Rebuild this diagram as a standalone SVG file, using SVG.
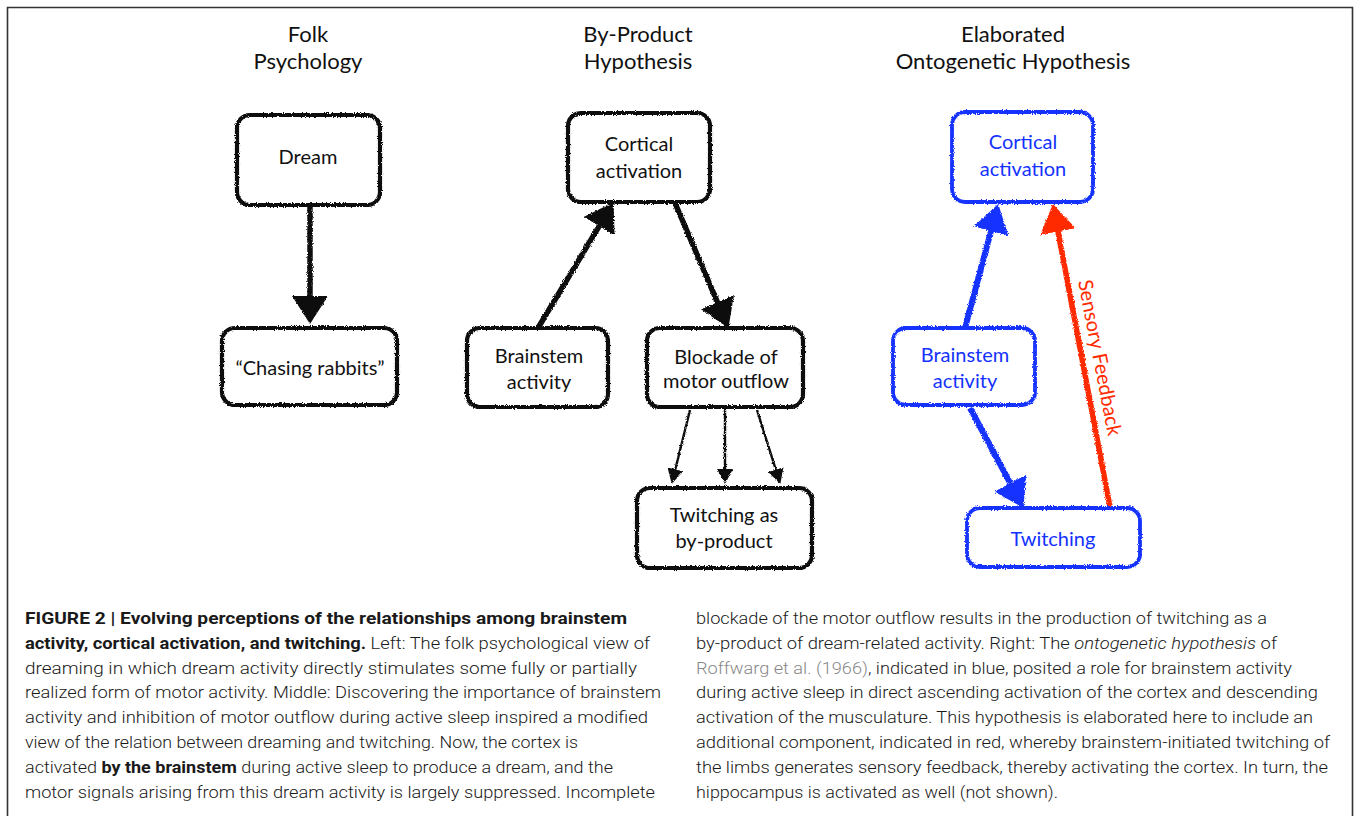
<svg xmlns="http://www.w3.org/2000/svg" width="1354" height="816" viewBox="0 0 1354 816">
<style>
.title{font-family:Lato,"Open Sans",sans-serif;font-size:22px;fill:#111;text-anchor:middle}
.lbl{font-family:Lato,"Open Sans",sans-serif;font-size:20px;fill:#111;text-anchor:middle}
.lblb{font-family:Lato,"Open Sans",sans-serif;font-size:20px;fill:#1432ff;text-anchor:middle}
.box{fill:#fff;stroke:#111;stroke-width:4.2}
.boxb{fill:#fff;stroke:#1432ff;stroke-width:3.8}
.ak{stroke:#111;stroke-width:5.5;fill:none}
.ab{stroke:#1432ff;stroke-width:6;fill:none}
.ar{stroke:#ff2a00;stroke-width:5.5;fill:none}
.thin{stroke:#111;stroke-width:2.4;fill:none}
.cap{font-family:Roboto,"Liberation Sans",sans-serif;font-weight:300;font-size:17px;fill:#1a1a1a}
.b{font-weight:700}
.i{font-style:italic}
.ref{fill:#888}
</style>
<defs>
<filter id="rough" x="-5%" y="-5%" width="110%" height="110%">
<feTurbulence type="fractalNoise" baseFrequency="1.1" numOctaves="2" seed="3" result="n"/>
<feDisplacementMap in="SourceGraphic" in2="n" scale="3.2" xChannelSelector="R" yChannelSelector="G"/>
</filter>
<marker id="hk" markerUnits="userSpaceOnUse" markerWidth="28" markerHeight="36" viewBox="0 0 28 36" refX="5" refY="18" orient="auto"><path d="M0,0 L28,18 L0,36 Z" fill="#111"/></marker>
<marker id="hb" markerUnits="userSpaceOnUse" markerWidth="28" markerHeight="36" viewBox="0 0 28 36" refX="5" refY="18" orient="auto"><path d="M0,0 L28,18 L0,36 Z" fill="#1432ff"/></marker>
<marker id="hr" markerUnits="userSpaceOnUse" markerWidth="28" markerHeight="36" viewBox="0 0 28 36" refX="5" refY="18" orient="auto"><path d="M0,0 L28,18 L0,36 Z" fill="#ff2a00"/></marker>
<marker id="hs" markerUnits="userSpaceOnUse" markerWidth="15" markerHeight="16" viewBox="0 0 15 16" refX="3" refY="8" orient="auto"><path d="M0,0 L15,8 L0,16 Z" fill="#111"/></marker>
</defs>
<rect width="1354" height="816" fill="#fff"/>
<path d="M7.5,816 V7.5 H1352.5 V816" fill="none" stroke="#333" stroke-width="1.6"/>

<g id="titles">
<text class="title" x="308" y="42">Folk</text>
<text class="title" x="308" y="69">Psychology</text>
<text class="title" x="638" y="42">By-Product</text>
<text class="title" x="638" y="69">Hypothesis</text>
<text class="title" x="1013" y="42">Elaborated</text>
<text class="title" x="1013" y="69">Ontogenetic Hypothesis</text>
</g>

<g id="connectors" filter="url(#rough)">
<line class="ak" x1="310" y1="205" x2="310" y2="301" marker-end="url(#hk)"/>
<line class="ak" x1="538" y1="328" x2="601.7" y2="221.9" marker-end="url(#hk)"/>
<line class="ak" x1="675" y1="203" x2="719.4" y2="306.8" marker-end="url(#hk)"/>
<line class="thin" x1="690" y1="410" x2="674.6" y2="472.3" marker-end="url(#hs)"/>
<line class="thin" x1="725" y1="410" x2="725" y2="472" marker-end="url(#hs)"/>
<line class="thin" x1="757" y1="410" x2="776.7" y2="472.5" marker-end="url(#hs)"/>
<line class="ab" x1="965" y1="328" x2="992.3" y2="226.3" marker-end="url(#hb)"/>
<line class="ab" x1="970" y1="408" x2="1012.6" y2="487.6" marker-end="url(#hb)"/>
<line class="ar" x1="1110" y1="507" x2="1057.1" y2="226.6" marker-end="url(#hr)"/>
</g>
<text id="sensory-label" x="1093" y="359" transform="rotate(79 1093 359)" font-family="Lato,'Open Sans',sans-serif" font-size="20" fill="#ff2a00" text-anchor="middle">Sensory Feedback</text>

<g id="folk-dream"><rect class="box" x="237" y="115" width="143" height="90" rx="13" filter="url(#rough)"/><text class="lbl" x="308" y="164">Dream</text></g>
<g id="folk-chasing"><rect class="box" x="222" y="328" width="175" height="77" rx="13" filter="url(#rough)"/><text class="lbl" x="310" y="375">“Chasing rabbits”</text></g>

<g id="bp-cortical"><rect class="box" x="568" y="113" width="142" height="89" rx="13" filter="url(#rough)"/><text class="lbl" x="639" y="151">Cortical</text><text class="lbl" x="639" y="178">activation</text></g>
<g id="bp-brainstem"><rect class="box" x="467" y="328" width="141" height="79" rx="13" filter="url(#rough)"/><text class="lbl" x="539" y="363">Brainstem</text><text class="lbl" x="539" y="389">activity</text></g>
<g id="bp-blockade"><rect class="box" x="647" y="328" width="156" height="79" rx="13" filter="url(#rough)"/><text class="lbl" x="726" y="364">Blockade of</text><text class="lbl" x="726" y="388">motor outflow</text></g>
<g id="bp-twitching"><rect class="box" x="637" y="488" width="175" height="80" rx="13" filter="url(#rough)"/><text class="lbl" x="724" y="522">Twitching as</text><text class="lbl" x="724" y="548">by-product</text></g>

<g id="eo-cortical"><rect class="boxb" x="952" y="112" width="141" height="90" rx="13" filter="url(#rough)"/><text class="lblb" x="1023" y="149">Cortical</text><text class="lblb" x="1023" y="176">activation</text></g>
<g id="eo-brainstem"><rect class="boxb" x="893" y="328" width="142" height="77" rx="13" filter="url(#rough)"/><text class="lblb" x="965" y="362">Brainstem</text><text class="lblb" x="965" y="388">activity</text></g>
<g id="eo-twitching"><rect class="boxb" x="967" y="508" width="173" height="59" rx="13" filter="url(#rough)"/><text class="lblb" x="1053" y="546">Twitching</text></g>

<g id="caption">
<text class="cap" x="25" y="624" textLength="602" lengthAdjust="spacingAndGlyphs"><tspan class="b">FIGURE 2 | Evolving perceptions of the relationships among brainstem</tspan></text>
<text class="cap" x="25" y="649" textLength="625" lengthAdjust="spacingAndGlyphs"><tspan class="b">activity, cortical activation, and twitching.</tspan> Left: The folk psychological view of</text>
<text class="cap" x="25" y="674" textLength="612" lengthAdjust="spacingAndGlyphs">dreaming in which dream activity directly stimulates some fully or partially</text>
<text class="cap" x="25" y="698" textLength="636" lengthAdjust="spacingAndGlyphs">realized form of motor activity. Middle: Discovering the importance of brainstem</text>
<text class="cap" x="25" y="723" textLength="623" lengthAdjust="spacingAndGlyphs">activity and inhibition of motor outflow during active sleep inspired a modified</text>
<text class="cap" x="25" y="748" textLength="553" lengthAdjust="spacingAndGlyphs">view of the relation between dreaming and twitching. Now, the cortex is</text>
<text class="cap" x="25" y="773" textLength="588" lengthAdjust="spacingAndGlyphs">activated <tspan class="b">by the brainstem</tspan> during active sleep to produce a dream, and the</text>
<text class="cap" x="25" y="798" textLength="630" lengthAdjust="spacingAndGlyphs">motor signals arising from this dream activity is largely suppressed. Incomplete</text>

<text class="cap" x="696" y="624" textLength="571" lengthAdjust="spacingAndGlyphs">blockade of the motor outflow results in the production of twitching as a</text>
<text class="cap" x="696" y="649" textLength="581" lengthAdjust="spacingAndGlyphs">by-product of dream-related activity. Right: The <tspan class="i">ontogenetic hypothesis</tspan> of</text>
<text class="cap" x="696" y="674" textLength="596" lengthAdjust="spacingAndGlyphs"><tspan class="ref">Roffwarg et al. (1966)</tspan>, indicated in blue, posited a role for brainstem activity</text>
<text class="cap" x="696" y="698" textLength="622" lengthAdjust="spacingAndGlyphs">during active sleep in direct ascending activation of the cortex and descending</text>
<text class="cap" x="696" y="723" textLength="617" lengthAdjust="spacingAndGlyphs">activation of the musculature. This hypothesis is elaborated here to include an</text>
<text class="cap" x="696" y="748" textLength="634" lengthAdjust="spacingAndGlyphs">additional component, indicated in red, whereby brainstem-initiated twitching of</text>
<text class="cap" x="696" y="773" textLength="632" lengthAdjust="spacingAndGlyphs">the limbs generates sensory feedback, thereby activating the cortex. In turn, the</text>
<text class="cap" x="696" y="798" textLength="362" lengthAdjust="spacingAndGlyphs">hippocampus is activated as well (not shown).</text>
</g>
</svg>
